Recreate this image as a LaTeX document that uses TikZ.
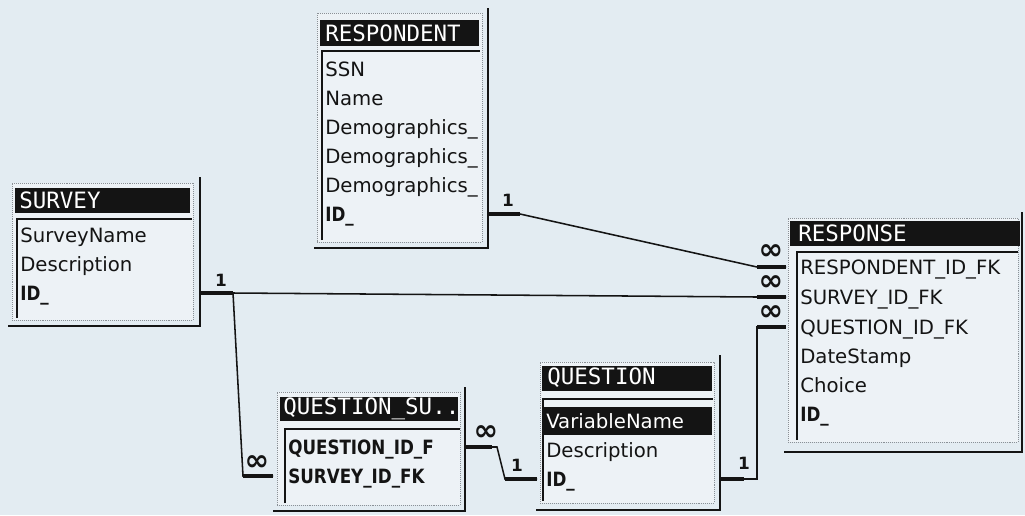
\documentclass[tikz,border=0pt]{standalone}
\usepackage{fontspec}
\setmainfont{DejaVu Sans}
\newfontfamily\titlefont{DejaVu Sans Mono}
\newfontfamily\keyfont{DejaVu Sans}[FakeStretch=0.85]
\usetikzlibrary{positioning, calc, fit}
\definecolor{paneBlue}{HTML}{E3ECF2}
\definecolor{listWhite}{HTML}{EDF2F6}
\definecolor{frameGray}{HTML}{8A9096}
\definecolor{barBlack}{HTML}{141414}
\tikzstyle{tablebox} = [rectangle, draw=frameGray, densely dotted, fill=listWhite, inner sep=0pt]
\tikzstyle{titlebar} = [rectangle, fill=barBlack, inner sep=0pt]
\tikzstyle{titletext} = [anchor=west, inner sep=0pt, text=white, font=\titlefont\fontsize{16}{16}\selectfont]
\tikzstyle{field} = [anchor=base west, inner sep=0pt, text=barBlack, font=\fontsize{14}{14}\selectfont]
\tikzstyle{keyfield} = [field, font=\keyfont\bfseries\fontsize{14}{14}\selectfont]
\tikzstyle{listedge} = [line width=0.9pt, draw=barBlack]
\tikzstyle{shade} = [line width=2pt, draw=barBlack]
\tikzstyle{link} = [line width=1.1pt, draw=barBlack]
\tikzstyle{linkend} = [line width=3pt, draw=barBlack]
\tikzstyle{card} = [inner sep=0pt, text=barBlack, font=\bfseries\fontsize{12}{12}\selectfont]
\tikzstyle{many} = [card, font=\bfseries\fontsize{21}{21}\selectfont]

\begin{document}
\begin{tikzpicture}[x=0.025cm, y=-0.025cm]

\fill [paneBlue] (0,0) rectangle (1025,515);
\useasboundingbox (0,0) rectangle (1025,515);

% RESPONDENT
\node (respondent) [tablebox, fit={(317,13) (482,242)}] {};
\draw [shade] (488,8) -- (488,248) -- (314,248);
\node (respondentBar) [titlebar, fit={(320,20) (479,46)}] {};
\node (respondentTitle) [titletext] at (325,33) {RESPONDENT};
\draw [listedge] (322,240) |- (480,51);
\node (rSSN) [field] at (325,76) {SSN};
\node (rName) [field] at (325,105) {Name};
\node (rDemoA) [field] at (325,134) {Demographics\_};
\node (rDemoB) [field] at (325,163) {Demographics\_};
\node (rDemoC) [field] at (325,192) {Demographics\_};
\node (rID) [keyfield] at (325,221) {ID\_};

% SURVEY
\node (survey) [tablebox, fit={(12,183) (193,320)}] {};
\draw [shade] (200,177) -- (200,326) -- (8,326);
\node (surveyBar) [titlebar, fit={(15,188) (190,213)}] {};
\node (surveyTitle) [titletext] at (19,200) {SURVEY};
\draw [listedge] (17,318) |- (192,219);
\node (sName) [field] at (20,242) {SurveyName};
\node (sDesc) [field] at (20,271) {Description};
\node (sID) [keyfield] at (20,300) {ID\_};

% RESPONSE
\node (response) [tablebox, fit={(788,218) (1018,442)}] {};
\draw [shade] (1022,212) -- (1022,452) -- (784,452);
\node (responseBar) [titlebar, fit={(790,221) (1020,246)}] {};
\node (responseTitle) [titletext] at (798,233) {RESPONSE};
\draw [listedge] (797,440) |- (1018,252);
\node (pRespondent) [field] at (800,274) {RESPONDENT\_ID\_FK};
\node (pSurvey) [field] at (800,304) {SURVEY\_ID\_FK};
\node (pQuestion) [field] at (800,334) {QUESTION\_ID\_FK};
\node (pDate) [field] at (800,363) {DateStamp};
\node (pChoice) [field] at (800,392) {Choice};
\node (pID) [keyfield] at (800,421) {ID\_};

% QUESTION_SU..
\node (qsu) [tablebox, fit={(277,392) (460,505)}] {};
\draw [shade] (465,387) -- (465,511) -- (273,511);
\node (qsuBar) [titlebar, fit={(280,397) (458,421)}] {};
\node (qsuTitle) [titletext] at (283,409) {QUESTION\_SU..};
\draw [listedge] (285,503) |- (460,429);
\node (qsuQuestion) [keyfield] at (288,454) {QUESTION\_ID\_F};
\node (qsuSurvey) [keyfield] at (288,483) {SURVEY\_ID\_FK};

% QUESTION
\node (question) [tablebox, fit={(540,362) (714,503)}] {};
\draw [shade] (720,355) -- (720,510) -- (536,510);
\node (questionBar) [titlebar, fit={(542,366) (712,391)}] {};
\node (questionTitle) [titletext] at (547,378) {QUESTION};
\draw [listedge] (543,501) |- (713,399);
\node (qPick) [titlebar, fit={(544,407) (712,435)}] {};
\node (qName) [field, text=white] at (546,428) {VariableName};
\node (qDesc) [field] at (546,457) {Description};
\node (qID) [keyfield] at (546,486) {ID\_};

% Link ends
\coordinate (aFrom) at (488,214);
\coordinate (aTo) at (786,267);
\coordinate (bFrom) at (200,293);
\coordinate (bTo) at (786,297);
\coordinate (cTo) at (273,476);
\coordinate (dFrom) at (465,447);
\coordinate (dTo) at (537,479);
\coordinate (eFrom) at (720,479);
\coordinate (eTo) at (786,327);

% Links
\draw [link] (aFrom) -- (520,214) -- (757,267) -- (aTo);
\draw [linkend] (aFrom) -- (520,214);
\draw [linkend] (757,267) -- (aTo);
\draw [link] (bFrom) -- (233,293) -- (757,297) -- (bTo);
\draw [linkend] (bFrom) -- (233,293);
\draw [linkend] (757,297) -- (bTo);
\draw [link] (233,293) -- (243,476) -- (cTo);
\draw [linkend] (243,476) -- (cTo);
\draw [link] (dFrom) -- (497,447) -- (505,479) -- (dTo);
\draw [linkend] (dFrom) -- (492,447);
\draw [linkend] (505,479) -- (dTo);
\draw [link] (eFrom) -- (757,479) -- (757,327) -- (eTo);
\draw [linkend] (eFrom) -- (744,479);
\draw [linkend] (757,327) -- (eTo);

% Cardinality
\node (aOne) [card] at (508,200) {1};
\node (aMany) [many] at (771,252) {∞};
\node (bOne) [card] at (221,280) {1};
\node (bMany) [many] at (771,283) {∞};
\node (cMany) [many] at (257,463) {∞};
\node (dMany) [many] at (486,433) {∞};
\node (dOne) [card] at (517,465) {1};
\node (eOne) [card] at (744,463) {1};
\node (eMany) [many] at (771,313) {∞};

\end{tikzpicture}
\end{document}
